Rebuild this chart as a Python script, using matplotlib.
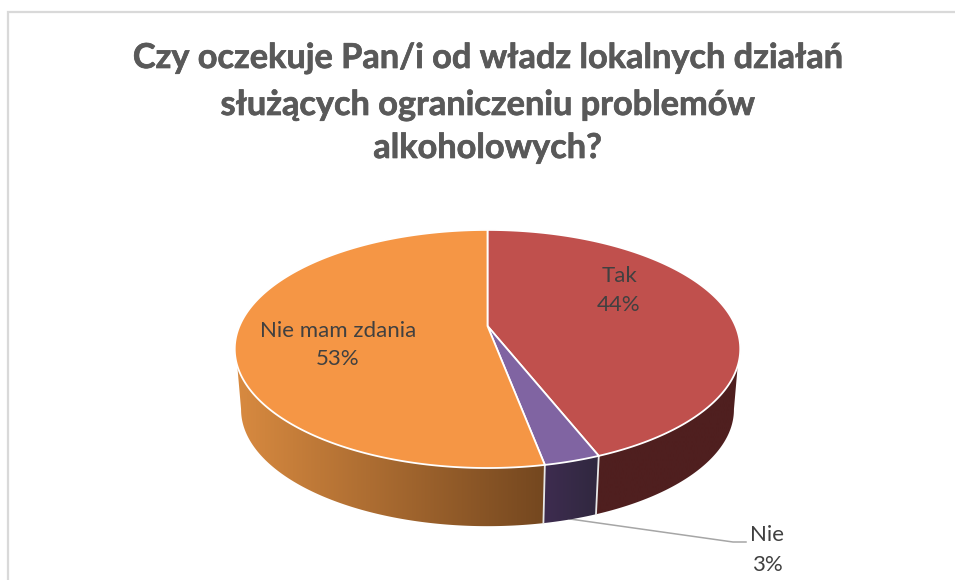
import numpy as np
import matplotlib
matplotlib.use("Agg")
import matplotlib.pyplot as plt
from matplotlib.colors import LinearSegmentedColormap
from matplotlib.patches import Polygon
import matplotlib.patheffects as pe

# Data
categories = ["Tak", "Nie", "Nie mam zdania"]
values = [44, 3, 53]
title_lines = ["Czy oczekuje Pan/i od władz lokalnych działań",
               "służących ograniczeniu problemów",
               "alkoholowych?"]

# Styles
top_colors = ["#C0504D", "#8064A2", "#F59645"]
side_left = ["#4F1F1F", "#3E2C50", "#D88A40"]
side_right = ["#4F1F1F", "#30283F", "#74471F"]
TEXT = "#404040"
TITLE = "#595959"
BORDER = "#D9D9D9"
FONT = "Lato"

# Perspective projection of the pie disc (canvas is in pixels)
CX, APEX_Y, A, B, K = 487.5, 326.0, 248.0, 114.6, 0.193
BOTTOM_APEX_Y, BOTTOM_X, BOTTOM_Y = 387.0, 0.975, 0.98
# Angular limits of the visible wall on the top and bottom rims (silhouette)
TOP_VIS = (109.0, 251.0)
BOTTOM_VIS = (101.0, 259.0)


def project(deg, bottom=False):
    t = np.radians(deg)
    u, v = np.sin(t), -np.cos(t)
    d = 1 - K * v
    if bottom:
        return CX + BOTTOM_X * A * u / d, BOTTOM_APEX_Y + BOTTOM_Y * B * v / d
    return CX + A * u / d, APEX_Y + B * v / d


fig = plt.figure(figsize=(9.55, 5.8), dpi=100, facecolor="white")
ax = fig.add_axes([0, 0, 1, 1])
ax.set_xlim(0, 955)
ax.set_ylim(580, 0)
ax.axis("off")

# Chart frame (top and left edges visible in the crop)
ax.plot([8, 8, 955], [580, 12, 12], color=BORDER, lw=1.6, solid_joinstyle="miter")

edges = np.concatenate([[0], np.cumsum(values)]) * 360.0 / sum(values)

# Side walls: only the part of each slice facing the viewer
for i in range(3):
    t_top = np.linspace(max(edges[i], TOP_VIS[0]), min(edges[i + 1], TOP_VIS[1]), 240)
    t_bot = np.linspace(max(edges[i], BOTTOM_VIS[0]), min(edges[i + 1], BOTTOM_VIS[1]), 240)
    tx, ty = project(t_top)
    bx, by = project(t_bot, bottom=True)
    pts = np.vstack([np.column_stack([tx, ty]), np.column_stack([bx, by])[::-1]])
    xmin, xmax = pts[:, 0].min(), pts[:, 0].max()
    cmap = LinearSegmentedColormap.from_list("s", [side_left[i], side_right[i]])
    poly = Polygon(pts, closed=True, facecolor="none", edgecolor="none")
    ax.add_patch(poly)
    img = ax.imshow(np.linspace(0, 1, 256)[None, :], extent=[xmin, xmax, 580, 0],
                    cmap=cmap, aspect="auto", zorder=2, interpolation="bilinear")
    img.set_clip_path(poly)

# Separators between the visible side walls
for e in edges[1:3]:
    x0, y0 = project(e)
    x1, y1 = project(e, bottom=True)
    ax.plot([x0, x1], [y0, y1], color="#E8E8E8", lw=1.3, zorder=3)

# Top faces
for i in range(3):
    t = np.linspace(edges[i], edges[i + 1], 300)
    x, y = project(t)
    pts = np.vstack([[CX, APEX_Y], np.column_stack([x, y])])
    ax.add_patch(Polygon(pts, closed=True, facecolor=top_colors[i], edgecolor="white",
                         lw=1.3, joinstyle="round", zorder=4))

# Leader line for the small slice
ax.plot([570, 733, 746], [519, 542, 542], color="#A6A6A6", lw=1.1, zorder=1.5)

# Title
for line, y in zip(title_lines, [58, 105, 148]):
    ax.text(487.5, y, line, ha="center", va="center", family=FONT, weight="bold",
            fontsize=24.7, color=TITLE, zorder=6,
            path_effects=[pe.withStroke(linewidth=0.5, foreground=TITLE)])

# Data labels
label_pos = [(619, 276, 305), (767, 535, 565), (338, 331, 359)]
for name, val, (x, y1, y2) in zip(categories, values, label_pos):
    ax.text(x, y1, name, ha="center", va="center", family=FONT, fontsize=16, color=TEXT, zorder=6)
    ax.text(x, y2, f"{val}%", ha="center", va="center", family=FONT, fontsize=16, color=TEXT, zorder=6)

ax.set_xlim(0, 955)
ax.set_ylim(580, 0)
fig.savefig("out.png", dpi=100, facecolor="white")
